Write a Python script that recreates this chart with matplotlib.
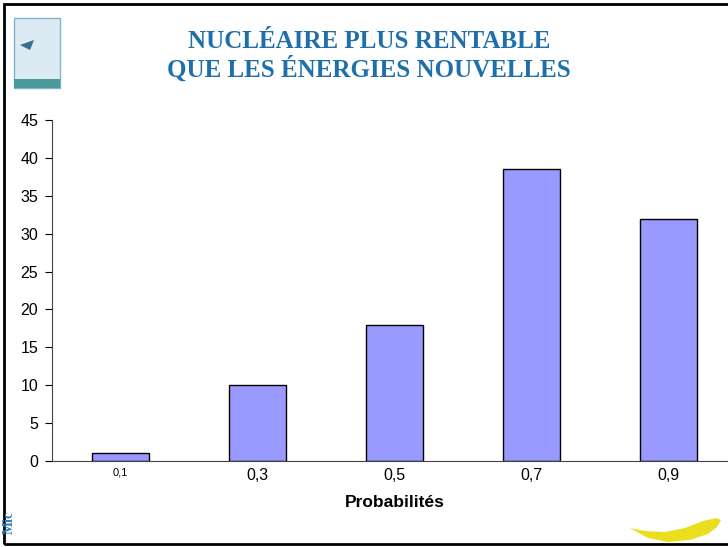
import numpy as np
import matplotlib
matplotlib.use("Agg")
import matplotlib.pyplot as plt
from matplotlib.patches import Rectangle, Polygon

# data
categories = ['0,1', '0,3', '0,5', '0,7', '0,9']
values = [1, 10, 18, 38.5, 32]
yticks = [0, 5, 10, 15, 20, 25, 30, 35, 40, 45]

W, H = 728, 547
fig = plt.figure(figsize=(W / 100, H / 100), dpi=100)

# axes placed in pixel terms (right side runs off the slide)
ax = fig.add_axes([52 / W, (H - 461) / H, 685 / W, 341 / H])
x = np.arange(len(categories))
ax.bar(x, values, width=0.41, color='#9999FF', edgecolor='black', linewidth=1)
ax.set_xlim(-0.5, 4.5)
ax.set_ylim(0, 45)
ax.set_yticks(yticks)
ax.set_yticklabels([str(v) for v in yticks], fontsize=11.5, family='Liberation Sans')
ax.set_xticks(x)
ax.set_xticklabels(categories, fontsize=11.5, family='Liberation Sans')
ax.get_xticklabels()[0].set_fontsize(8)
ax.tick_params(axis='x', length=0, pad=5)
ax.tick_params(axis='y', length=5, width=0.8, pad=5)
for s in ['top', 'right']:
    ax.spines[s].set_visible(False)
ax.spines['left'].set_linewidth(0.8)
ax.spines['bottom'].set_linewidth(0.8)
ax.spines['bottom'].set_color('#444444')
ax.spines['left'].set_color('#444444')
ax.set_xlabel('Probabilités', fontsize=12.5, fontweight='bold',
              family='Liberation Sans', labelpad=9)

# title
title_color = '#1E6FAA'
fig.text(369 / W, 1 - 41 / H, 'NUCLÉAIRE PLUS RENTABLE', ha='center', va='center',
         fontsize=18, fontweight='bold', family='Liberation Serif', color=title_color)
fig.text(369 / W, 1 - 69 / H, 'QUE LES ÉNERGIES NOUVELLES', ha='center', va='center',
         fontsize=18, fontweight='bold', family='Liberation Serif', color=title_color)

# slide frame
fig.patches.append(Rectangle((4 / W, 3 / H), 1.0, (H - 7) / H, transform=fig.transFigure,
                             fill=False, edgecolor='black', linewidth=2))

# logo top-left
fig.patches.append(Rectangle((14 / W, 1 - 88 / H), 46 / W, 70 / H, transform=fig.transFigure,
                             facecolor='#DCEAF4', edgecolor='#7FB3D5', linewidth=1))
fig.patches.append(Rectangle((14 / W, 1 - 88 / H), 46 / W, 9 / H, transform=fig.transFigure,
                             facecolor='#4A9A9A', edgecolor='none'))
fig.patches.append(Polygon([(20 / W, 1 - 45 / H), (34 / W, 1 - 40 / H), (30 / W, 1 - 50 / H)],
                           closed=True, transform=fig.transFigure, facecolor='#3A6E8F',
                           edgecolor='none'))

# "Mic" footer
fig.text(9 / W, 1 - 522 / H, 'Mic', rotation=90, ha='center', va='center', fontsize=10,
         fontweight='bold', family='Liberation Serif', color='#2F7FB8')

# yellow swoosh bottom-right
swoosh = [(630, 528), (645, 531), (665, 532), (685, 528), (703, 521), (716, 518),
          (721, 520), (717, 527), (708, 534), (690, 540), (668, 542), (648, 538)]
fig.patches.append(Polygon([(px / W, 1 - py / H) for px, py in swoosh], closed=True,
                           transform=fig.transFigure, facecolor='#EADF1E', edgecolor='none'))

fig.savefig('out.png', dpi=100)
